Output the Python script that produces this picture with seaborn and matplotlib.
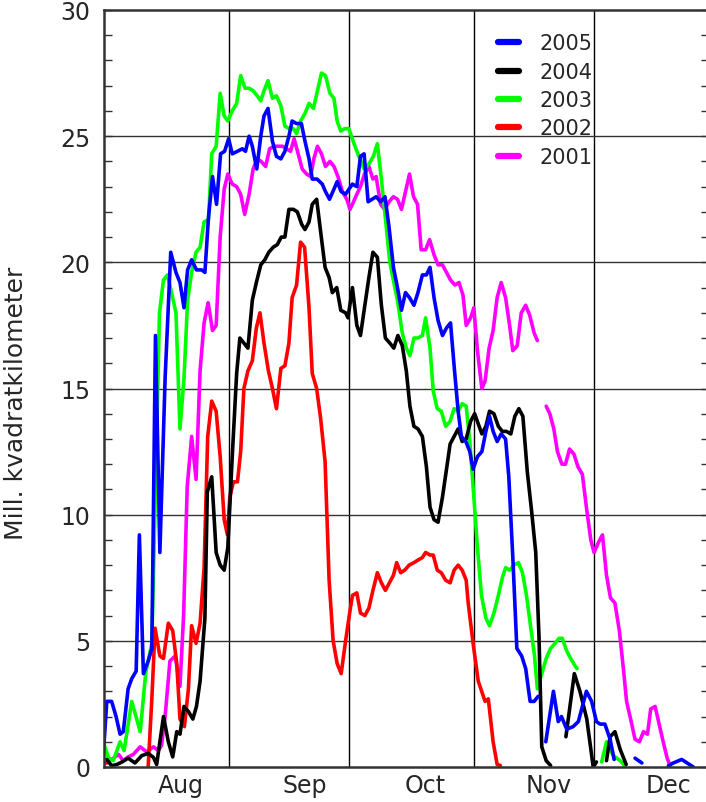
import numpy as np
import pandas as pd
import seaborn as sns
import matplotlib.pyplot as plt

nan = np.nan

# days counted from the left edge of the plot (1 Aug = day 0); nan = gap in the line
days_2005 = [0, 0.7, 1.9, 3, 4, 4.8, 6, 6.9, 8, 8.8, 9.8, 11, 11.9, 12.8, 13.9, 15.2, 16.6, 17.9, 18.9, 19.9,
             20.8, 21.8, 23, 24.3, 25.1, 26, 27, 28, 29, 30, 31, 31.9, 33.2, 34.4, 35.2, 36.1, 36.9, 38, 39, 39.8,
             40.8, 41.9, 42.9, 44, 45, 46, 46.8, 47.9, 49.1, 50, 51, 51.8, 53, 54.3, 55.1, 56.1, 57.2, 58, 59, 60.1,
             61.8, 62.9, 63.8, 64.7, 65.7, 66.7, 67.7, 68.8, 69.9, 70.9, 72, 73, 74, 75, 76, 77.1, 78.1, 79.2, 80.2,
             81.1, 82.1, 83.1, 84.2, 85.2, 86.2, 87.2, 88.1, 88.9, 90, 91, 91.8, 92.9, 94, 95, 95.9, 96.8, 97.8,
             98.8, 99.9, 100.7, 101.7, 102.7, 103.9, 104.9, 106, 107, 108, 108.5,
             109.9, 111.8, 113, 113.8, 115.1, 116.7, 118, 120, 121.3, 122.5, 123.4, 124.6, 125.9, 126.9, 127.2,
             132.1, 133.8, 134,
             140.4, 141.5, 143.7, 146.6]
vals_2005 = [0.9, 2.6, 2.6, 2.0, 1.3, 1.4, 3.1, 3.5, 3.8, 9.2, 3.7, 4.2, 4.7, 17.1, 8.5, 15.4, 20.4, 19.6, 19.2, 18.2,
             19.7, 20.1, 19.7, 19.7, 19.6, 21.8, 23.4, 22.3, 24.3, 24.4, 24.9, 24.3, 24.4, 24.5, 24.4, 25.0, 24.6, 23.7, 25.0, 25.8,
             26.1, 24.8, 24.2, 24.1, 24.4, 25.0, 25.6, 25.5, 25.5, 24.8, 24.1, 23.3, 23.3, 23.1, 22.8, 22.5, 22.9, 23.2, 22.8, 22.7,
             23.1, 23.0, 24.2, 24.3, 22.4, 22.5, 22.6, 22.4, 22.6, 21.4, 19.8, 19.0, 18.1, 18.8, 18.6, 18.3, 18.8, 19.5, 19.5,
             19.8, 18.6, 17.7, 17.1, 17.4, 17.6, 15.7, 14.1, 13.1, 12.9, 12.5, 11.8, 12.3, 12.5, 13.3, 13.9, 13.3, 12.9,
             13.2, 13.0, 11.5, 8.3, 4.7, 4.4, 3.9, 2.6, 2.6, 2.8, nan,
             1.0, 3.0, 1.8, 2.0, 1.5, 1.6, 1.8, 3.0, 2.6, 1.8, 1.7, 1.7, 1.1, 0.3, nan,
             0.35, 0.16, nan,
             0.05, 0.15, 0.3, 0.0]

days_2004 = [0.7, 1.9, 3.2, 4.5, 6, 7.7, 9.4, 11, 12.3, 13.1, 14.8, 16, 17.1, 18.1, 18.9, 19.9, 21, 22.1, 23, 23.9,
             25.1, 25.7, 26.8, 27.9, 28.9, 29.9, 30.8, 31.9, 33, 33.8, 34.8, 35.8, 36.9, 37.9, 39, 40, 41, 42.1, 43.1,
             44.1, 45, 46, 47.1, 48.1, 49.2, 50, 51, 51.8, 52.9, 53.9, 55, 56, 56.8, 57.9, 58.9, 60.1, 60.7, 61.8,
             62.9, 63.8, 64.8, 65.9, 66.9, 68, 69, 70, 71.1, 72.1, 73.1, 74.2, 75.2, 76.1, 77.1, 78.1, 79.2, 80.2,
             81.1, 82.1, 83.1, 84.2, 85.2, 86.1, 87.1, 88.1, 89.1, 90.1, 91.2, 92.2, 94, 95, 95.9, 97, 98.1, 99.1,
             100.1, 101.2, 102.2, 103.2, 104.2, 105.3, 106.4, 107.4, 108.2, 108.9, 110, 111.1, 112,
             114.9, 117, 118.4, 120.1, 121.7, 122.5, 123,
             125, 125.9, 127.1, 128.4, 129.9]
vals_2004 = [0.3, 0.05, 0.1, 0.2, 0.35, 0.16, 0.45, 0.54, 0.38, 0.1, 2.0, 1.0, 0.4, 1.4, 1.3, 2.4, 2.2, 1.9, 2.4, 3.4,
             5.9, 10.9, 11.5, 8.5, 8.0, 7.8, 8.7, 12.3, 15.6, 17.0, 16.8, 16.6, 18.5, 19.2, 19.9, 20.1, 20.4, 20.6, 20.7,
             21.0, 21.0, 22.1, 22.1, 22.0, 21.5, 21.3, 21.6, 22.3, 22.5, 21.2, 19.8, 19.4, 18.8, 19.0, 18.1, 18.0, 17.8, 19.0,
             17.5, 17.1, 18.2, 19.4, 20.4, 20.2, 18.3, 17.0, 16.8, 16.6, 17.1, 16.7, 15.7, 14.3, 13.5, 13.4, 13.1, 11.9,
             10.3, 9.8, 9.7, 10.7, 11.8, 12.8, 13.1, 13.4, 12.9, 13.0, 13.7, 14.0, 13.2, 13.5, 14.1, 14.0, 13.5, 13.3,
             13.3, 13.2, 13.9, 14.2, 13.9, 11.7, 10.1, 8.5, 5.2, 0.8, 0.25, 0.06, nan,
             1.2, 3.7, 3.0, 1.9, 0.0, 0.2, nan,
             0.25, 1.2, 1.4, 0.7, 0.1]

days_2003 = [0, 1.1, 2.3, 4, 5, 6.9, 9, 10.4, 11.9, 12.8, 13.8, 14.8, 15.8, 16.8, 17.9, 18.9, 19.9, 20.8, 21.8, 22.9,
             23.9, 24.9, 26, 26.8, 27.9, 28.9, 29.9, 30.8, 31.9, 33, 34, 35.1, 36.1, 37.1, 38.1, 39, 39.8, 40.8, 41.9,
             42.9, 44, 45, 46, 47.1, 47.9, 48.9, 50, 51, 52.1, 53.1, 54.1, 55.1, 56.2, 57.2, 58, 58.9, 59.9, 60.9,
             62.2, 63.4, 64.7, 65.9, 67, 68, 69, 70.1, 71.1, 72.1, 73.1, 74.2, 75.2, 76.1, 77.1, 78.1, 79.2, 80,
             81.1, 81.9, 82.9, 83.9, 85, 86.1, 87.1, 88.1, 89.1, 90.1, 91, 92, 92.9, 93.9, 95, 95.9, 97, 98.1, 99.1,
             99.9, 100.9, 102, 103.1, 104.1, 105.1, 106.1, 107.1, 107.8, 108.9, 110, 111.1, 112.2, 113.2, 114, 115.1,
             116.1, 117.2, 117.7, 118,
             123.8, 125, 126.7, 128.4, 129.6]
vals_2003 = [0.9, 0.38, 0.25, 1.0, 0.65, 2.6, 1.4, 3.75, 4.9, 11.0, 18.0, 19.3, 19.5, 18.8, 18.0, 13.4, 15.4, 18.5, 19.6, 20.4,
             20.6, 21.6, 21.7, 24.3, 24.6, 26.7, 25.8, 25.6, 26.0, 26.3, 27.4, 26.9, 26.9, 26.8, 26.6, 26.4, 26.8, 27.2, 26.5,
             26.6, 26.2, 25.4, 25.3, 25.3, 25.1, 25.6, 25.9, 26.3, 26.1, 26.8, 27.5, 27.4, 26.7, 26.5, 25.6, 25.2, 25.3, 25.3,
             24.7, 24.2, 23.7, 23.9, 24.2, 24.7, 23.3, 21.6, 20.0, 19.2, 18.4, 17.2, 16.6, 16.3, 17.0, 17.0, 17.1, 17.8,
             16.6, 14.9, 14.2, 14.1, 13.5, 13.7, 14.2, 14.1, 14.4, 14.3, 12.9, 10.7, 8.7, 6.8, 5.9, 5.6, 6.1, 6.8, 7.5,
             7.9, 7.8, 8.0, 8.1, 7.7, 6.8, 5.6, 4.4, 3.1, 3.7, 4.3, 4.7, 4.9, 5.1, 5.1, 4.6,
             4.3, 4.0, 3.9, nan,
             0.2, 1.0, 0.45, 0.25, 0.03]

days_2002 = [0, 0.8, 1,
             11, 11.9, 12.7, 13.9, 14.8, 16, 17.1, 18.1, 18.9, 20, 21, 21.8, 22.9, 23.9, 24.9, 25.8, 26.8, 27.9,
             28.9, 29.9, 30.7, 31.3, 32.2, 33.2, 34, 34.8, 35.8, 36.9, 37.9, 38.8, 39.8, 40.9, 41.9, 42.9, 44, 45, 46,
             46.8, 47.9, 48.9, 49.9, 51, 51.8, 52.9, 53.9, 55, 56, 57, 58, 59, 60.1, 61.2, 61.8, 62.9, 63.8, 64.9,
             65.9, 66.9, 68, 69, 70, 71, 72, 72.8, 73.8, 74.8, 75.9, 77.1, 78.1, 79.2, 80, 81.1, 81.9, 82.9, 83.9, 85,
             86.1, 87.1, 88.1, 89.1, 90.1, 90.6, 91.9, 93.1, 94.8, 95.6, 96.8, 97.8, 98.6]
vals_2002 = [0.15, 0.15, nan,
             0.05, 2.7, 5.5, 4.4, 4.3, 5.7, 5.4, 4.1, 1.9, 1.6, 3.1, 5.6, 4.9, 5.7, 7.9, 13.1, 14.5, 14.1,
             12.3, 9.8, 9.2, 10.7, 11.3, 11.3, 12.5, 15.0, 15.7, 16.1, 17.4, 18.0, 16.8, 15.7, 15.0, 14.2, 15.8, 15.9, 16.8,
             18.6, 19.1, 20.8, 20.6, 18.2, 15.6, 15.0, 13.8, 12.1, 7.4, 5.0, 4.1, 3.7, 5.0, 6.2, 6.8, 6.9, 6.1, 6.0,
             6.3, 7.0, 7.7, 7.3, 7.0, 7.3, 7.6, 8.1, 7.7, 7.8, 8.0, 8.1, 8.2, 8.3, 8.5, 8.4, 8.4, 7.8, 7.7, 7.4,
             7.3, 7.8, 8.0, 7.8, 7.4, 6.5, 4.8, 3.4, 2.6, 2.7, 1.0, 0.1, 0.06]

days_2001 = [1.1, 2.3, 3.6, 4.8, 6, 7.3, 9, 10.6, 12.3, 13.5, 14.3, 15.2, 16.4, 17.7, 18.9, 19.8, 20.7, 21.8, 22.9,
             23.9, 24.9, 25.9, 27, 27.9, 28.9, 29.9, 30.8, 31.9, 33, 34, 35, 36.1, 37.1, 38.1, 39.1, 40.2, 41.2, 42.3,
             43.3, 44.4, 45.4, 46.4, 47.3, 48.3, 49.3, 50.4, 51.4, 52.2, 53.1, 54.1, 55.1, 56.2, 57.2, 58.2, 59.3,
             60.4, 61.2, 61.8, 62.9, 63.8, 64.8, 65.9, 66.9, 67.7, 68.8, 69.8, 70.9, 72, 73, 74, 75, 76, 77, 78,
             78.9, 80, 81, 82.1, 83.1, 84.2, 85.2, 86.2, 87.3, 88.3, 89.3, 90.1, 91.2, 92, 92.9, 94, 94.8, 95.8,
             96.8, 97.8, 98.8, 99.9, 100.9, 101.7, 102.8, 103.8, 104.9, 105.9, 107, 107.8, 108,
             110, 110.9, 111.9, 112.8, 113.9, 114.8, 115.8, 116.9, 117.9, 119, 120, 121.1, 121.9, 123, 124, 125,
             126, 127.1, 128.2, 129.2, 130, 131, 132.1, 133.2, 134.2, 135.2, 136, 137.1, 138.1, 139.1, 140.1, 140.8]
vals_2001 = [0.25, 0.34, 0.5, 0.25, 0.4, 0.5, 0.8, 0.6, 0.8, 0.65, 0.85, 2.0, 4.2, 4.4, 3.2, 6.0, 11.1, 13.1, 11.4,
             15.7, 17.6, 18.4, 17.3, 17.5, 21.0, 22.9, 23.5, 23.1, 23.0, 22.7, 21.9, 22.7, 23.7, 24.1, 24.0, 23.8, 24.5, 24.6,
             24.6, 24.6, 24.5, 24.4, 24.9, 24.3, 23.7, 23.5, 23.4, 24.1, 24.6, 24.3, 23.8, 24.0, 23.8, 23.4, 22.8,
             22.5, 22.1, 22.3, 22.7, 23.0, 23.5, 23.8, 23.3, 23.4, 22.3, 22.1, 22.4, 22.6, 22.5, 22.1, 22.8, 23.5, 22.6, 22.3,
             20.5, 20.5, 20.9, 20.3, 19.9, 19.9, 19.6, 19.3, 19.1, 19.2, 18.7, 17.5, 17.8, 18.2, 16.5, 15.0, 15.3, 16.6,
             17.3, 18.6, 19.2, 18.6, 17.5, 16.5, 16.7, 18.0, 18.3, 17.9, 17.2, 16.9, nan,
             14.3, 14.0, 13.4, 12.5, 12.0, 12.0, 12.6, 12.4, 11.9, 11.6, 10.3, 9.0, 8.5, 8.9, 9.2, 7.6,
             6.7, 6.5, 5.4, 3.9, 2.6, 1.9, 1.1, 1.0, 1.4, 1.3, 2.3, 2.4, 1.7, 1.0, 0.35, 0.06]

years = ["2005", "2004", "2003", "2002", "2001"]
colors = ["#0000ff", "#000000", "#00ff00", "#ff0000", "#ff00ff"]
month_labels = ["Aug", "Sep", "Oct", "Nov", "Dec"]
month_label_pos = [19, 50, 80, 110.5, 140.5]
month_lines = [31, 61, 92, 122]

series = {"2005": (days_2005, vals_2005), "2004": (days_2004, vals_2004),
          "2003": (days_2003, vals_2003), "2002": (days_2002, vals_2002),
          "2001": (days_2001, vals_2001)}

frames = []
for yr, (d, v) in series.items():
    part = pd.DataFrame({"day": d, "value": v})
    part["seg"] = yr + "_" + part["value"].isna().cumsum().astype(str)
    part["year"] = yr
    frames.append(part.dropna())
df = pd.concat(frames, ignore_index=True)

sns.set_style("ticks")
plt.rcParams["font.family"] = ["DejaVu Sans"]

fig = plt.figure(figsize=(7.06, 8.03), dpi=100)
ax = fig.add_axes([104 / 706, 35 / 803, 605 / 706, 757 / 803])

# draw oldest first so 2005 ends up on top
sns.lineplot(data=df, x="day", y="value", hue="year", units="seg", estimator=None,
             hue_order=years[::-1], palette=dict(zip(years, colors)),
             linewidth=2.6, sort=False, ax=ax)

ax.set_xlim(0, 150.5)
ax.set_ylim(0, 30)

for x in month_lines:
    ax.axvline(x, color="black", lw=1.0, zorder=0)
for y in range(5, 30, 5):
    ax.axhline(y, color="#333333", lw=1.0, zorder=0)

ax.set_yticks(range(0, 31, 5))
ax.set_yticks(range(0, 31, 1), minor=True)
ax.tick_params(axis="y", which="both", direction="in", left=True, right=True,
               length=6, width=1, color="#333333", labelsize=17, pad=10)
ax.set_xticks(month_label_pos)
ax.set_xticklabels(month_labels)
ax.tick_params(axis="x", length=0, labelsize=17, pad=4)

ax.set_xlabel("")
ax.set_ylabel("Mill. kvadratkilometer", fontsize=18)
ax.yaxis.set_label_coords(-0.125, 0.482)

for side in ["left", "right", "top", "bottom"]:
    ax.spines[side].set_color("#333333")
    ax.spines[side].set_linewidth(1.8)

handles, labels = ax.get_legend_handles_labels()
order = [labels.index(y) for y in years]
leg = ax.legend([handles[i] for i in order], [labels[i] for i in order],
                loc="upper left", bbox_to_anchor=(0.652, 0.969), frameon=False,
                fontsize=15, handlelength=1.0, handletextpad=0.95, labelspacing=0.4,
                borderaxespad=0, borderpad=0)
for line in leg.get_lines():
    line.set_linewidth(4.5)

fig.savefig("out.png", dpi=100)
